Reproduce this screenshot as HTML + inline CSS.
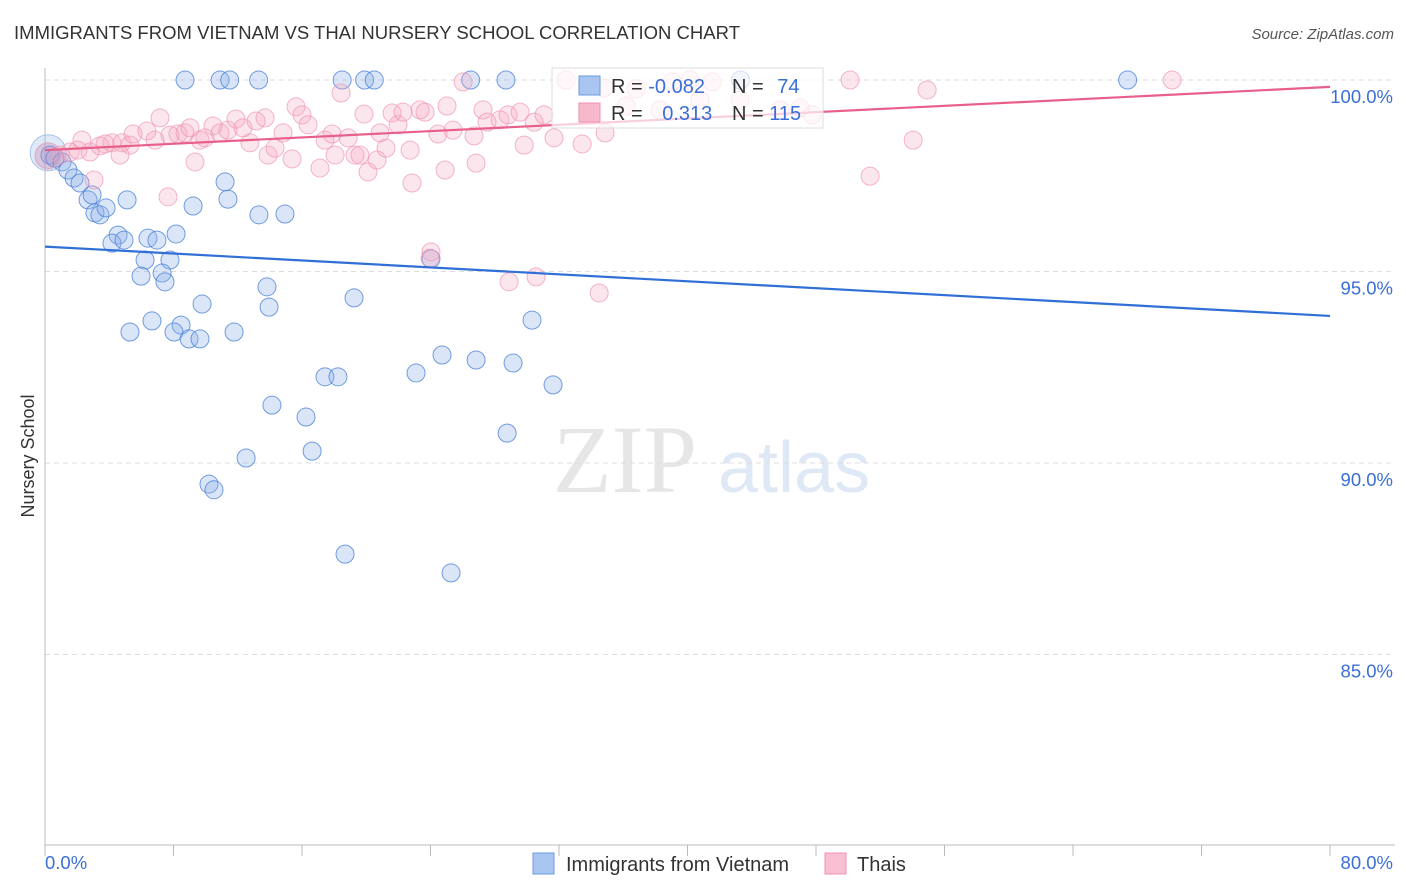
<!DOCTYPE html>
<html><head><meta charset="utf-8"><style>
body{margin:0;background:#fff;font-family:"Liberation Sans",sans-serif}
svg{display:block}
</style></head><body>
<svg id="c" width="1406" height="892">
<text x="14" y="39" font-size="18.5" fill="#333" textLength="726">IMMIGRANTS FROM VIETNAM VS THAI NURSERY SCHOOL CORRELATION CHART</text>
<text x="1394" y="39" font-size="15" fill="#555" font-style="italic" text-anchor="end">Source: ZipAtlas.com</text>
<g>
<text x="553" y="492" font-size="96" font-family="Liberation Serif" fill="#e6e6e6">ZIP</text>
<text x="718" y="492" font-size="72" fill="#dfe9f6">atlas</text>
</g>
<g id="grid"></g>
<g id="marks"></g>
<text transform="translate(34,456) rotate(-90)" font-size="18" fill="#333" text-anchor="middle">Nursery School</text>
<text x="45" y="869" font-size="18.5" fill="#3a6fd8">0.0%</text>
<text x="1393" y="869" font-size="18.5" fill="#3a6fd8" text-anchor="end">80.0%</text>
<g>
<rect x="552" y="68" width="271" height="60" fill="#fff" fill-opacity="0.7" stroke="#ddd"/>
<rect x="579" y="76" width="21" height="19" fill="#aac6f0" stroke="#6a9be0"/>
<rect x="579" y="103" width="21" height="19" fill="#f8b8cc" stroke="#f090b0"/>
<text x="611" y="93" font-size="20" fill="#333">R = <tspan fill="#3a6fd8">-0.082</tspan></text>
<text x="732" y="93" font-size="20" fill="#333">N = <tspan fill="#3a6fd8" dx="8">74</tspan></text>
<text x="611" y="120" font-size="20" fill="#333">R = <tspan fill="#3a6fd8" dx="14">0.313</tspan></text>
<text x="732" y="120" font-size="20" fill="#333">N = <tspan fill="#3a6fd8">115</tspan></text>
</g>
<g>
<rect x="533" y="853" width="21" height="21" fill="#aac6f0" stroke="#6a9be0"/>
<text x="566" y="871" font-size="20" fill="#333">Immigrants from Vietnam</text>
<rect x="825" y="853" width="21" height="21" fill="#f8c0d2" stroke="#f090b0"/>
<text x="857" y="871" font-size="20" fill="#333">Thais</text>
</g>
</svg>
<script>
const yTicks=[100,95,90,85];
const yTickLabels=["100.0%","95.0%","90.0%","85.0%"];
const xTicks=[0,8,16,24,32,40,48,56,64,72,80];
const blueX=[8.72,10.9,11.5,13.3,18.5,19.9,20.5,26.5,28.7,67.4,43.3,0.31,0.62,1.06,1.43,1.81,2.18,2.68,3.11,3.42,3.80,2.93,5.11,4.55,4.17,4.92,6.41,6.97,8.16,6.23,7.78,7.29,5.98,7.47,11.21,11.39,9.22,13.32,14.94,13.82,13.95,9.78,19.24,24.03,6.66,5.29,8.47,8.03,8.97,9.65,11.77,30.32,24.72,26.84,29.14,23.10,31.63,17.43,18.24,14.13,16.25,28.77,16.63,12.52,10.21,10.52,18.68,25.28];
const blueY=[100,100,100,100,100,100,100,100,100,100,100,98.04,97.96,97.86,97.65,97.44,97.31,96.87,96.53,96.48,96.66,97.0,96.87,95.95,95.74,95.82,95.87,95.82,95.98,95.30,95.30,94.96,94.88,94.73,97.34,96.89,96.71,96.48,96.50,94.60,94.07,94.15,94.31,95.33,93.71,93.42,93.60,93.42,93.24,93.24,93.42,93.73,92.82,92.69,92.61,92.35,92.04,92.25,92.25,91.51,91.20,90.78,90.31,90.13,89.45,89.30,87.62,87.13];
const pinkX=[0.93,1.56,2.05,2.80,3.42,4.17,4.79,5.29,3.74,2.30,4.67,5.48,6.35,6.85,7.16,7.78,8.28,8.72,9.03,9.34,7.66,3.05,9.65,9.96,10.46,10.90,11.39,11.89,12.33,12.76,13.14,13.70,13.89,14.32,14.82,15.38,15.63,16.00,16.38,17.12,17.43,17.87,18.06,18.43,18.87,19.30,19.61,19.86,20.11,20.67,20.86,21.23,21.61,21.98,22.29,22.73,22.85,23.35,23.66,24.47,24.91,25.03,25.40,26.03,26.84,26.71,27.27,27.52,28.33,28.83,29.58,29.83,30.45,31.07,31.69,32.44,33.44,34.87,34.81,36.18,36.80,39.05,40.16,41.53,43.28,45.77,47.01,47.76,50.12,51.37,54.05,54.92,70.17,24.03,28.89,30.57,34.50,23.97,38.29,40.78];
const pinkY=[98.04,98.12,98.17,98.12,98.28,98.36,98.36,98.30,98.33,98.43,98.04,98.59,98.67,98.43,99.01,98.56,98.59,98.62,98.75,97.86,96.95,97.39,98.43,98.49,98.80,98.62,98.69,98.98,98.75,98.36,98.93,99.01,98.04,98.22,98.62,97.94,99.30,99.09,98.83,97.70,98.43,98.59,98.04,99.66,98.49,98.04,98.04,99.11,97.60,97.91,98.62,98.22,99.14,98.83,99.16,98.17,97.31,99.22,99.16,98.59,97.65,99.32,98.69,99.95,97.83,98.54,99.22,98.90,98.96,99.09,99.16,98.30,98.90,99.09,98.49,100,98.33,98.62,99.79,99.32,99.77,99.95,100,99.95,99.48,99.22,99.27,99.09,100,97.49,98.43,99.74,100,95.51,94.73,94.86,94.44,95.35,99.22,99.48];
const blueTrend=[95.65,93.84];
const pinkTrend=[98.17,99.82];
const NS="http://www.w3.org/2000/svg";
const X=v=>45+v*(1285/80);
const Y=v=>80+(100-v)*38.3;
function mk(t,a,p){const e=document.createElementNS(NS,t);for(const k in a)e.setAttribute(k,a[k]);p.appendChild(e);return e;}
const grid=document.getElementById('grid'),marks=document.getElementById('marks');
yTicks.forEach((t,i)=>{
 const l=mk('line',{x1:45,x2:1395,y1:Y(t),y2:Y(t),stroke:'#ddd','stroke-dasharray':'5,4'},grid);
 
 
 const tx=mk('text',{x:1393,y:Y(t)+23,'font-size':18.5,fill:'#3a6fd8','text-anchor':'end'},grid);
 tx.textContent=yTickLabels[i];
 
 
});
let a=mk('line',{x1:45,x2:45,y1:68,y2:845,stroke:'#bbb'},grid);


a=mk('line',{x1:45,x2:1395,y1:845,y2:845,stroke:'#bbb'},grid);


xTicks.forEach(t=>{
 const l=mk('line',{x1:X(t),x2:X(t),y1:845,y2:856,stroke:'#bbb'},grid);
 
 
});
let big=mk('circle',{cx:X(0.2),cy:Y(98.1),r:18,fill:'rgba(150,185,235,0.3)',stroke:'#a8c2ea'},marks);


blueX.forEach((x,i)=>{
 const c=mk('circle',{cx:X(x),cy:Y(blueY[i]),r:9,fill:'rgba(140,178,232,0.32)',stroke:'rgba(70,125,215,0.75)','stroke-width':1},marks);
 
 
});
big=mk('circle',{cx:X(0.19),cy:Y(98.02),r:13,fill:'rgba(200,130,175,0.35)',stroke:'#e0a8c0'},marks);


pinkX.forEach((x,i)=>{
 const c=mk('circle',{cx:X(x),cy:Y(pinkY[i]),r:9,fill:'rgba(245,165,192,0.28)',stroke:'rgba(238,150,180,0.7)','stroke-width':1},marks);
 
 
});
let tl=mk('line',{x1:X(0),x2:X(80),y1:Y(blueTrend[0]),y2:Y(blueTrend[1]),stroke:'#2f6fd6','stroke-width':2.2},marks);


tl=mk('line',{x1:X(0),x2:X(80),y1:Y(pinkTrend[0]),y2:Y(pinkTrend[1]),stroke:'#e8608a','stroke-width':2.2},marks);


</script>
</body></html>
